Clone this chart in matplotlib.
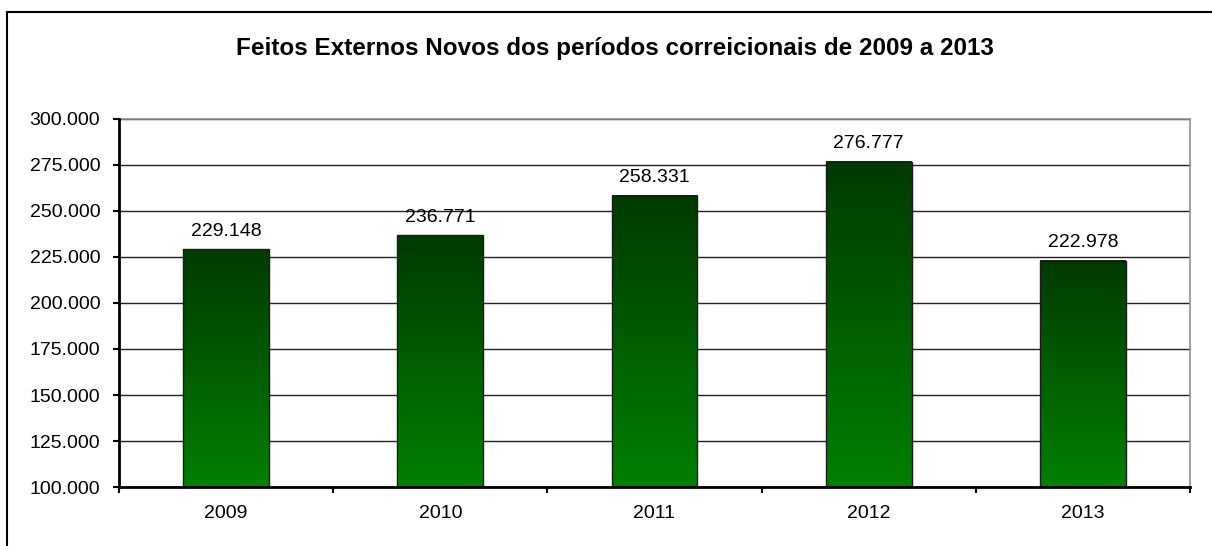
import matplotlib.pyplot as plt
import numpy as np
from matplotlib.colors import LinearSegmentedColormap
from matplotlib.patches import Rectangle
from matplotlib.ticker import FuncFormatter, FixedLocator

plt.rcParams['font.family'] = ['Liberation Sans', 'DejaVu Sans']

# Data
years = ['2009', '2010', '2011', '2012', '2013']
novos = [229148, 236771, 258331, 276777, 222978]
title = 'Feitos Externos Novos dos períodos correicionais de 2009 a 2013'

fig = plt.figure(figsize=(12.12, 5.46), dpi=100)
ax = fig.add_axes([119 / 1212, 59 / 546, 1071 / 1212, 368 / 546])

# outer frame (open at right and bottom)
fig.patches.append(Rectangle((7 / 1212, -0.1), 1.2, (534 / 546) + 0.1,
                             transform=fig.transFigure, fill=False,
                             edgecolor='black', linewidth=1.5))

x = np.arange(len(years))
bars = ax.bar(x, novos, width=0.40, bottom=0, color='none',
              edgecolor='#1a1a1a', linewidth=1.0, zorder=3)

# vertical gradient inside each bar
cmap = LinearSegmentedColormap.from_list('grn', ['#008000', '#003a00'])
grad = np.linspace(0, 1, 256).reshape(-1, 1)
for b in bars:
    x0, w, h = b.get_x(), b.get_width(), b.get_height()
    ax.imshow(grad, cmap=cmap, aspect='auto', origin='lower',
              extent=(x0, x0 + w, 100000, h), zorder=2.5)

for b, v in zip(bars, novos):
    ax.annotate(f'{v / 1000:.3f}', (b.get_x() + b.get_width() / 2, v),
                xytext=(0, 7), textcoords='offset points',
                ha='center', va='bottom', fontsize=14)

ax.set_xlim(-0.5, len(years) - 0.5)
ax.set_ylim(100000, 300000)
ax.set_yticks(np.arange(100000, 300001, 25000))
ax.yaxis.set_major_formatter(FuncFormatter(lambda v, p: f'{v / 1000:.3f}'))

ax.set_xticks(x)
ax.set_xticklabels(years)
ax.xaxis.set_minor_locator(FixedLocator(np.arange(-0.5, len(years), 1)))
ax.tick_params(axis='x', which='major', length=0, pad=13, labelsize=14)
ax.tick_params(axis='x', which='minor', length=4.5, width=1.5, direction='out')
ax.tick_params(axis='y', length=4.5, width=1.5, direction='out', labelsize=14, pad=9)

ax.grid(axis='y', color='#222222', linewidth=1.0, zorder=1)
ax.set_axisbelow(True)

for s in ['left', 'bottom']:
    ax.spines[s].set_linewidth(2)
    ax.spines[s].set_color('black')
    ax.spines[s].set_zorder(4)
for s in ['top', 'right']:
    ax.spines[s].set_linewidth(1.2)
    ax.spines[s].set_color('#909090')

fig.text(615 / 1212, 1 - 48 / 546, title, ha='center', va='center',
         fontsize=17.5, fontweight='bold')

fig.savefig('out.png', dpi=100)
